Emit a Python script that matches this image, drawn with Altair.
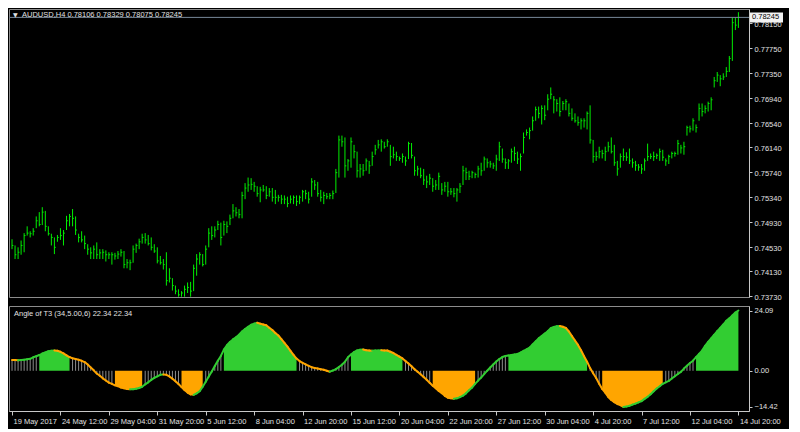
import json
import altair as alt
import pandas as pd

# ---------------- data ----------------
date_labels = ["19 May 2017", "24 May 12:00", "29 May 04:00", "31 May 20:00", "5 Jun 12:00",
               "8 Jun 04:00", "12 Jun 20:00", "15 Jun 12:00", "20 Jun 04:00", "22 Jun 20:00",
               "27 Jun 12:00", "30 Jun 04:00", "4 Jul 20:00", "7 Jul 12:00", "12 Jul 04:00",
               "14 Jul 20:00"]
date_bars = [0, 16, 32, 48, 64, 80, 96, 112, 128, 144, 160, 176, 192, 208, 224, 240]

highs = [0.7465, 0.7455, 0.7452, 0.7463, 0.7475, 0.7486, 0.7478, 0.7483, 0.7502, 0.7509,
         0.7517, 0.7511, 0.7486, 0.7474, 0.7468, 0.7472, 0.7483, 0.7480, 0.7503, 0.7506,
         0.7514, 0.7502, 0.7474, 0.7478, 0.7471, 0.7457, 0.7452, 0.7455, 0.7460, 0.7449,
         0.7449, 0.7447, 0.7444, 0.7444, 0.7443, 0.7446, 0.7449, 0.7446, 0.7433, 0.7432,
         0.7455, 0.7458, 0.7466, 0.7474, 0.7475, 0.7472, 0.7468, 0.7457, 0.7452, 0.7438,
         0.7433, 0.7444, 0.7418, 0.7402, 0.7390, 0.7384, 0.7381, 0.7390, 0.7395, 0.7396,
         0.7424, 0.7441, 0.7444, 0.7441, 0.7455, 0.7483, 0.7486, 0.7486, 0.7495, 0.7492,
         0.7495, 0.7494, 0.7505, 0.7522, 0.7517, 0.7514, 0.7542, 0.7556, 0.7565, 0.7564,
         0.7558, 0.7551, 0.7550, 0.7553, 0.7551, 0.7548, 0.7548, 0.7545, 0.7537, 0.7537,
         0.7536, 0.7534, 0.7536, 0.7536, 0.7536, 0.7536, 0.7545, 0.7545, 0.7542, 0.7564,
         0.7561, 0.7558, 0.7545, 0.7542, 0.7540, 0.7540, 0.7544, 0.7579, 0.7633, 0.7633,
         0.7630, 0.7595, 0.7630, 0.7618, 0.7607, 0.7587, 0.7587, 0.7596, 0.7592, 0.7607,
         0.7618, 0.7626, 0.7627, 0.7623, 0.7627, 0.7618, 0.7615, 0.7607, 0.7599, 0.7604,
         0.7599, 0.7623, 0.7621, 0.7599, 0.7584, 0.7581, 0.7579, 0.7568, 0.7571, 0.7564,
         0.7561, 0.7573, 0.7556, 0.7558, 0.7558, 0.7548, 0.7548, 0.7548, 0.7556, 0.7584,
         0.7581, 0.7576, 0.7576, 0.7573, 0.7584, 0.7589, 0.7599, 0.7596, 0.7592, 0.7589,
         0.7602, 0.7623, 0.7612, 0.7596, 0.7595, 0.7612, 0.7615, 0.7607, 0.7604, 0.7638,
         0.7643, 0.7646, 0.7664, 0.7680, 0.7680, 0.7682, 0.7682, 0.7700, 0.7711, 0.7697,
         0.7692, 0.7695, 0.7689, 0.7692, 0.7685, 0.7677, 0.7669, 0.7664, 0.7661, 0.7661,
         0.7672, 0.7682, 0.7626, 0.7607, 0.7615, 0.7610, 0.7615, 0.7623, 0.7630, 0.7618,
         0.7592, 0.7604, 0.7612, 0.7606, 0.7612, 0.7596, 0.7592, 0.7587, 0.7587, 0.7596,
         0.7620, 0.7604, 0.7607, 0.7604, 0.7612, 0.7610, 0.7596, 0.7602, 0.7607, 0.7607,
         0.7626, 0.7618, 0.7623, 0.7649, 0.7649, 0.7661, 0.7651, 0.7685, 0.7685, 0.7682,
         0.7688, 0.7695, 0.7728, 0.7736, 0.7731, 0.7734, 0.7744, 0.7762, 0.7824, 0.7824,
         0.78329]

lows = [0.7449, 0.7433, 0.7433, 0.7440, 0.7444, 0.7471, 0.7468, 0.7471, 0.7483, 0.7486,
        0.7488, 0.7478, 0.7471, 0.7455, 0.7441, 0.7461, 0.7464, 0.7455, 0.7480, 0.7486,
        0.7486, 0.7472, 0.7460, 0.7460, 0.7449, 0.7440, 0.7433, 0.7433, 0.7433, 0.7433,
        0.7433, 0.7429, 0.7433, 0.7424, 0.7432, 0.7433, 0.7437, 0.7418, 0.7418, 0.7415,
        0.7427, 0.7443, 0.7449, 0.7458, 0.7458, 0.7455, 0.7447, 0.7443, 0.7426, 0.7424,
        0.7416, 0.7390, 0.7395, 0.7382, 0.7376, 0.7372, 0.7372, 0.7372, 0.7378, 0.7372,
        0.7381, 0.7406, 0.7424, 0.7421, 0.7424, 0.7452, 0.7464, 0.7468, 0.7480, 0.7455,
        0.7471, 0.7475, 0.7488, 0.7499, 0.7502, 0.7499, 0.7499, 0.7530, 0.7542, 0.7545,
        0.7542, 0.7534, 0.7525, 0.7542, 0.7530, 0.7534, 0.7526, 0.7522, 0.7526, 0.7522,
        0.7522, 0.7517, 0.7523, 0.7522, 0.7519, 0.7522, 0.7526, 0.7530, 0.7523, 0.7534,
        0.7545, 0.7534, 0.7526, 0.7522, 0.7530, 0.7530, 0.7530, 0.7540, 0.7565, 0.7615,
        0.7565, 0.7576, 0.7581, 0.7596, 0.7565, 0.7565, 0.7568, 0.7576, 0.7571, 0.7584,
        0.7602, 0.7612, 0.7607, 0.7612, 0.7615, 0.7584, 0.7596, 0.7592, 0.7592, 0.7589,
        0.7584, 0.7595, 0.7596, 0.7568, 0.7568, 0.7564, 0.7553, 0.7548, 0.7553, 0.7542,
        0.7545, 0.7545, 0.7537, 0.7542, 0.7534, 0.7537, 0.7533, 0.7526, 0.7540, 0.7553,
        0.7561, 0.7561, 0.7564, 0.7564, 0.7565, 0.7568, 0.7576, 0.7581, 0.7581, 0.7579,
        0.7576, 0.7592, 0.7589, 0.7579, 0.7579, 0.7589, 0.7592, 0.7587, 0.7576, 0.7604,
        0.7633, 0.7627, 0.7641, 0.7657, 0.7661, 0.7651, 0.7658, 0.7674, 0.7692, 0.7669,
        0.7672, 0.7664, 0.7674, 0.7674, 0.7664, 0.7657, 0.7654, 0.7649, 0.7643, 0.7646,
        0.7643, 0.7620, 0.7589, 0.7592, 0.7596, 0.7596, 0.7592, 0.7607, 0.7604, 0.7584,
        0.7568, 0.7581, 0.7592, 0.7592, 0.7587, 0.7581, 0.7576, 0.7576, 0.7571, 0.7576,
        0.7592, 0.7595, 0.7592, 0.7595, 0.7592, 0.7592, 0.7584, 0.7587, 0.7596, 0.7599,
        0.7602, 0.7604, 0.7602, 0.7633, 0.7638, 0.7641, 0.7638, 0.7657, 0.7664, 0.7669,
        0.7672, 0.7674, 0.7711, 0.7720, 0.7713, 0.7723, 0.7728, 0.7736, 0.7754, 0.7804,
        0.78075]

closes = [0.7455, 0.7440, 0.7444, 0.7455, 0.7471, 0.7475, 0.7474, 0.7478, 0.7495, 0.7489,
          0.7509, 0.7486, 0.7474, 0.7468, 0.7452, 0.7468, 0.7471, 0.7475, 0.7495, 0.7502,
          0.7499, 0.7480, 0.7468, 0.7464, 0.7458, 0.7449, 0.7443, 0.7449, 0.7440, 0.7443,
          0.7444, 0.7440, 0.7440, 0.7440, 0.7438, 0.7441, 0.7444, 0.7424, 0.7427, 0.7427,
          0.7449, 0.7455, 0.7461, 0.7468, 0.7464, 0.7458, 0.7452, 0.7446, 0.7430, 0.7427,
          0.7424, 0.7398, 0.7402, 0.7390, 0.7381, 0.7375, 0.7378, 0.7384, 0.7387, 0.7381,
          0.7418, 0.7433, 0.7440, 0.7424, 0.7449, 0.7475, 0.7471, 0.7480, 0.7489, 0.7468,
          0.7489, 0.7486, 0.7499, 0.7511, 0.7508, 0.7505, 0.7536, 0.7548, 0.7553, 0.7554,
          0.7551, 0.7539, 0.7545, 0.7545, 0.7536, 0.7542, 0.7533, 0.7533, 0.7533, 0.7530,
          0.7530, 0.7523, 0.7530, 0.7533, 0.7526, 0.7533, 0.7542, 0.7539, 0.7530, 0.7558,
          0.7553, 0.7539, 0.7533, 0.7536, 0.7534, 0.7536, 0.7539, 0.7573, 0.7626, 0.7623,
          0.7584, 0.7592, 0.7623, 0.7607, 0.7576, 0.7579, 0.7576, 0.7592, 0.7584, 0.7599,
          0.7610, 0.7618, 0.7623, 0.7615, 0.7623, 0.7599, 0.7602, 0.7599, 0.7596, 0.7599,
          0.7592, 0.7620, 0.7601, 0.7576, 0.7579, 0.7568, 0.7561, 0.7558, 0.7564, 0.7551,
          0.7553, 0.7567, 0.7545, 0.7551, 0.7542, 0.7542, 0.7539, 0.7545, 0.7551, 0.7576,
          0.7573, 0.7567, 0.7573, 0.7570, 0.7579, 0.7576, 0.7595, 0.7589, 0.7587, 0.7584,
          0.7595, 0.7615, 0.7595, 0.7589, 0.7592, 0.7607, 0.7604, 0.7595, 0.7599, 0.7630,
          0.7638, 0.7641, 0.7657, 0.7675, 0.7669, 0.7677, 0.7666, 0.7692, 0.7700, 0.7691,
          0.7685, 0.7672, 0.7685, 0.7688, 0.7669, 0.7661, 0.7657, 0.7654, 0.7657, 0.7657,
          0.7669, 0.7626, 0.7599, 0.7599, 0.7607, 0.7604, 0.7607, 0.7615, 0.7607, 0.7589,
          0.7579, 0.7599, 0.7599, 0.7598, 0.7592, 0.7589, 0.7585, 0.7582, 0.7579, 0.7592,
          0.7599, 0.7599, 0.7599, 0.7601, 0.7607, 0.7598, 0.7592, 0.7599, 0.7604, 0.7604,
          0.7620, 0.7613, 0.7615, 0.7646, 0.7644, 0.7657, 0.7646, 0.7677, 0.7672, 0.7677,
          0.7685, 0.7691, 0.7722, 0.7731, 0.7725, 0.7728, 0.7737, 0.7758, 0.7816, 0.7812,
          0.78245]

angle = [4.35, 4.3, 4.2, 4.3, 4.4, 4.6, 4.8, 5.4, 5.8, 6.3,
         6.9, 7.3, 7.8, 8.0, 8.15, 8.0, 7.6, 7.0, 6.2, 5.5,
         5.0, 4.7, 4.4, 4.0, 3.5, 2.5, 1.35, 0.2, -1.1, -2.0,
         -3.0, -3.85, -4.7, -5.2, -5.8, -6.15, -6.7, -7.0, -7.3, -7.35,
         -7.35, -7.2, -6.85, -6.35, -5.4, -4.6, -3.65, -2.85, -2.2, -1.6,
         -1.45, -1.6, -2.25, -3.2, -4.2, -5.3, -6.45, -7.7, -8.7, -9.4,
         -9.6, -9.0, -8.15, -6.35, -4.4, -2.3, -0.25, 1.9, 4.05, 5.95,
         8.45, 10.2, 11.5, 12.55, 13.4, 14.4, 15.7, 16.7, 17.6, 18.4,
         18.85, 19.2, 18.85, 18.5, 18.2, 17.2, 16.3, 15.1, 14.1, 12.7,
         11.2, 9.65, 8.0, 6.4, 4.9, 3.9, 3.2, 2.6, 2.0, 1.45,
         1.15, 0.9, 0.65, 0.4, 0.05, -0.35, 0.1, 0.65, 1.5, 2.45,
         3.6, 5.4, 6.55, 7.5, 8.15, 8.4, 8.55, 8.25, 8.1, 8.05,
         8.1, 8.15, 8.2, 8.15, 8.1, 7.6, 7.1, 6.4, 5.65, 4.95,
         3.95, 2.95, 1.8, 0.65, -0.4, -1.35, -2.5, -3.55, -4.8, -5.95,
         -6.95, -8.05, -8.9, -10.0, -10.75, -11.0, -11.15, -11.0, -10.5, -9.9,
         -9.0, -7.8, -6.7, -5.25, -3.9, -2.7, -1.3, 0.05, 1.3, 2.55,
         3.75, 4.7, 5.5, 5.9, 6.15, 6.3, 6.5, 6.75, 7.3, 7.95,
         8.55, 9.25, 10.5, 11.75, 12.95, 13.9, 14.85, 15.85, 17.0, 17.5,
         17.85, 17.9, 17.6, 17.1, 15.7, 13.85, 12.1, 10.35, 8.2, 5.85,
         3.65, 1.1, -1.0, -2.9, -5.15, -7.25, -8.75, -10.45, -11.65, -12.5,
         -13.25, -13.7, -14.42, -14.3, -14.0, -13.5, -13.1, -12.6, -12.1, -11.2,
         -10.4, -9.4, -8.2, -7.05, -6.15, -5.2, -4.6, -4.05, -3.1, -2.2,
         -1.25, -0.4, 0.9, 2.0, 3.1, 4.05, 5.45, 6.75, 8.1, 10.0,
         11.55, 13.0, 14.4, 15.85, 17.1, 18.5, 20.0, 20.95, 22.15, 23.3,
         24.09]

# colour state of the histogram, as runs of bars
state_runs = [("flat", 9), ("up", 11), ("flat", 14), ("down", 10), ("flat", 12), ("down", 8),
              ("flat", 6), ("up", 25), ("flat", 17), ("up", 18), ("flat", 9), ("down", 15),
              ("flat", 10), ("up", 27), ("flat", 4), ("down", 21), ("flat", 10), ("up", 15)]

price_ticks = [0.78150, 0.77750, 0.77350, 0.76940, 0.76540, 0.76140, 0.75740,
               0.75340, 0.74930, 0.74530, 0.74130, 0.73730]
ind_ticks = [24.09, 0.0, -14.42]
last_price = 0.78245
price_title = "AUDUSD,H4  0.78106 0.78329 0.78075 0.78245"
ind_title = "Angle of T3 (34,5.00,6) 22.34 22.34"

# ---------------- tables ----------------
n = len(closes)
bars = pd.DataFrame({"i": list(range(n)), "h": highs, "l": lows, "c": closes})
bars["ic"] = bars["i"] + 0.45

states, runs = [], []
for k, (s, cnt) in enumerate(state_runs):
    states += [s] * cnt
    runs += [k] * cnt
ind = pd.DataFrame({"i": list(range(n)), "v": angle, "state": states, "run": runs})
seg = ind.copy()
seg["i2"] = seg["i"].shift(-1)
seg["v2"] = seg["v"].shift(-1)
seg = seg.dropna()
seg["dir"] = ["up" if b >= a else "down" for a, b in zip(seg["v"], seg["v2"])]
fill_df = ind[ind["state"] != "flat"]
flat_df = ind[ind["state"] == "flat"]

# ---------------- styling ----------------
FONT = "Liberation Sans"
W, H1, H2 = 740, 288, 105
TXT = "#e0e0e0"
AXC = "#c8c8c8"
xs = alt.Scale(domain=[-1.0, 243.5], nice=False, zero=False)
ys = alt.Scale(domain=[0.73715, 0.78381], nice=False, zero=False)
ysi = alt.Scale(domain=[-16.06, 25.9], nice=False, zero=False)
cscale = alt.Scale(domain=["up", "down"], range=["#32cd32", "#ffa500"])

common = dict(labelFont=FONT, labelFontSize=7.5, labelColor=TXT, domainColor=AXC,
              tickColor=AXC, grid=False, title=None)
y_price_axis = alt.Axis(orient="right", values=price_ticks, format=".5f", tickSize=3,
                        labelPadding=2, labelOffset=1.5, labelOverlap=False, **common)
y_ind_axis = alt.Axis(orient="right", values=ind_ticks, format=".2f", tickSize=3,
                      labelPadding=2, labelOverlap=False, **common)
label_expr = json.dumps(date_labels) + "[round(datum.value / 16)]"
x_axis = alt.Axis(orient="bottom", values=date_bars, labelExpr=label_expr, labelAlign="left",
                  labelFlush=False, labelOverlap=False, tickSize=4, labelPadding=2,
                  labelBaseline="top", labelOffset=1, **common)

one = pd.DataFrame({"t": [price_title]})
one_i = pd.DataFrame({"t": [ind_title]})

# ---------------- price panel ----------------
hl = alt.Chart(bars).mark_rule(color="#00ee00", strokeWidth=1).encode(
    x=alt.X("i:Q", scale=xs, axis=None),
    y=alt.Y("l:Q", scale=ys, axis=y_price_axis),
    y2="h:Q",
)
ctick = alt.Chart(bars).mark_rule(color="#00ee00", strokeWidth=1).encode(
    x=alt.X("i:Q", scale=xs, axis=None),
    x2="ic:Q",
    y=alt.Y("c:Q", scale=ys, axis=y_price_axis),
)
bid = alt.Chart(one).mark_rule(color="#778899", strokeWidth=1).encode(
    y=alt.datum(last_price, scale=ys, axis=y_price_axis)
)
box = alt.Chart(one).mark_rule(color="#f2f2f2", strokeWidth=10).encode(
    y=alt.datum(last_price, scale=ys, axis=y_price_axis),
    x=alt.value(W + 1), x2=alt.value(W + 34),
)
box_txt = alt.Chart(one).mark_text(align="left", baseline="middle", color="black",
                                   fontSize=7.5, font=FONT).encode(
    y=alt.datum(last_price, scale=ys, axis=y_price_axis),
    x=alt.value(W + 3), text=alt.value("0.78245"),
)
tri = alt.Chart(one).mark_text(align="left", baseline="middle", color=TXT, fontSize=6,
                               font="DejaVu Sans").encode(
    x=alt.value(4), y=alt.value(6), text=alt.value("\u25bc"))
ttl = alt.Chart(one).mark_text(align="left", baseline="middle", color=TXT, fontSize=7.5,
                               font=FONT).encode(
    x=alt.value(13), y=alt.value(6), text="t:N")

top = alt.layer(hl, ctick, bid, box, box_txt, tri, ttl).properties(width=W, height=H1)

# ---------------- indicator panel ----------------
area = alt.Chart(fill_df).mark_area(interpolate="monotone", opacity=1).encode(
    x=alt.X("i:Q", scale=xs, axis=x_axis),
    y=alt.Y("v:Q", scale=ysi, axis=y_ind_axis, stack=None),
    y2=alt.datum(0),
    color=alt.Color("state:N", scale=cscale, legend=None),
    detail="run:N",
)
hatch = alt.Chart(flat_df).mark_rule(color="#8c8c8c", strokeWidth=1).encode(
    x=alt.X("i:Q", scale=xs, axis=x_axis),
    y=alt.Y("v:Q", scale=ysi, axis=y_ind_axis, stack=None),
    y2=alt.datum(0),
)
line = alt.Chart(seg).mark_rule(strokeWidth=2, strokeCap="round").encode(
    x=alt.X("i:Q", scale=xs, axis=x_axis),
    x2="i2:Q",
    y=alt.Y("v:Q", scale=ysi, axis=y_ind_axis, stack=None),
    y2="v2:Q",
    color=alt.Color("dir:N", scale=cscale, legend=None),
)
ittl = alt.Chart(one_i).mark_text(align="left", baseline="middle", color=TXT, fontSize=7.5,
                                  font=FONT).encode(
    x=alt.value(5), y=alt.value(8), text="t:N")

bottom = alt.layer(area, hatch, line, ittl).properties(width=W, height=H2)

chart = alt.vconcat(top, bottom, spacing=3).configure(
    background="black",
    padding={"left": 0, "top": 0, "right": 0, "bottom": 4},
).configure_view(stroke="#8c8c8c", strokeWidth=1)

chart.save("out.html", embed_options={"renderer": "svg", "actions": False})
